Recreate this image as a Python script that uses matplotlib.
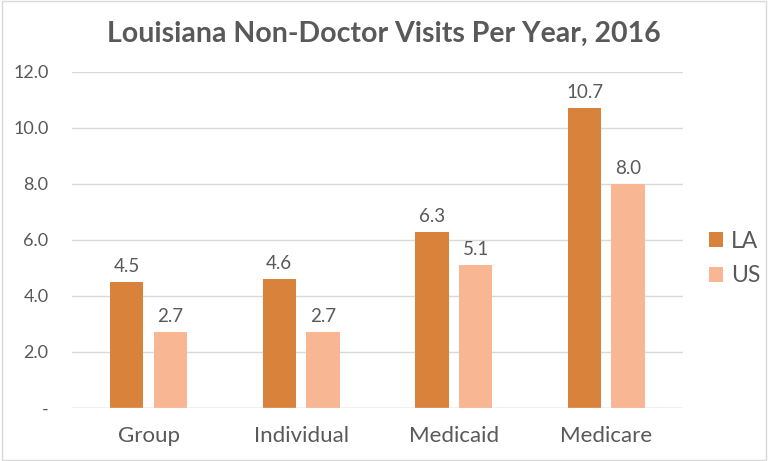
import numpy as np
import matplotlib.pyplot as plt
from matplotlib.patches import Rectangle

categories = ['Group', 'Individual', 'Medicaid', 'Medicare']
la_values = [4.5, 4.6, 6.3, 10.7]
us_values = [2.7, 2.7, 5.1, 8.0]
y_ticks = [0, 2, 4, 6, 8, 10, 12]
y_labels = ['-', '2.0', '4.0', '6.0', '8.0', '10.0', '12.0']

plt.rcParams['font.family'] = ['Lato', 'DejaVu Sans']
txt_color = '#595959'
c_la = '#D9823B'
c_us = '#F8B692'

fig = plt.figure(figsize=(7.68, 4.61), dpi=100)
ax = fig.add_axes([0.094, 0.115, 0.795, 0.729])

x = np.arange(len(categories))
w = 0.22
off = 0.143
b1 = ax.bar(x - off, la_values, w, color=c_la, label='LA', zorder=3)
b2 = ax.bar(x + off, us_values, w, color=c_us, label='US', zorder=3)

for bars, vals in ((b1, la_values), (b2, us_values)):
    for b, v in zip(bars, vals):
        ax.text(b.get_x() + b.get_width() / 2, v + 0.25, f'{v:.1f}',
                ha='center', va='bottom', fontsize=13.5, color=txt_color)

ax.set_xlim(-0.5, 3.5)
ax.set_ylim(0, 12)
ax.set_yticks(y_ticks)
ax.set_yticklabels(y_labels)
ax.set_xticks(x)
ax.set_xticklabels(categories)
ax.tick_params(axis='y', length=0, labelsize=13, labelcolor=txt_color, pad=17)
ax.tick_params(axis='x', length=0, labelsize=16, labelcolor=txt_color, pad=13)
ax.grid(axis='y', color='#D9D9D9', linewidth=1, zorder=0)
for s in ax.spines.values():
    s.set_visible(False)
ax.axhline(0, color='#D9D9D9', linewidth=1, zorder=4)

fig.suptitle('Louisiana Non-Doctor Visits Per Year, 2016', x=0.5, y=0.955,
             fontsize=20.5, fontweight='bold', color=txt_color)

ax.legend(loc='center left', bbox_to_anchor=(1.01, 0.445), frameon=False,
          fontsize=16.5, labelcolor=txt_color, handlelength=0.6, handleheight=0.6,
          handletextpad=0.35, labelspacing=0.6)

fig.patches.append(Rectangle((0.002, 0.002), 0.996, 0.996, transform=fig.transFigure,
                             fill=False, edgecolor='#D9D9D9', linewidth=1))

fig.savefig('out.png', dpi=100)
